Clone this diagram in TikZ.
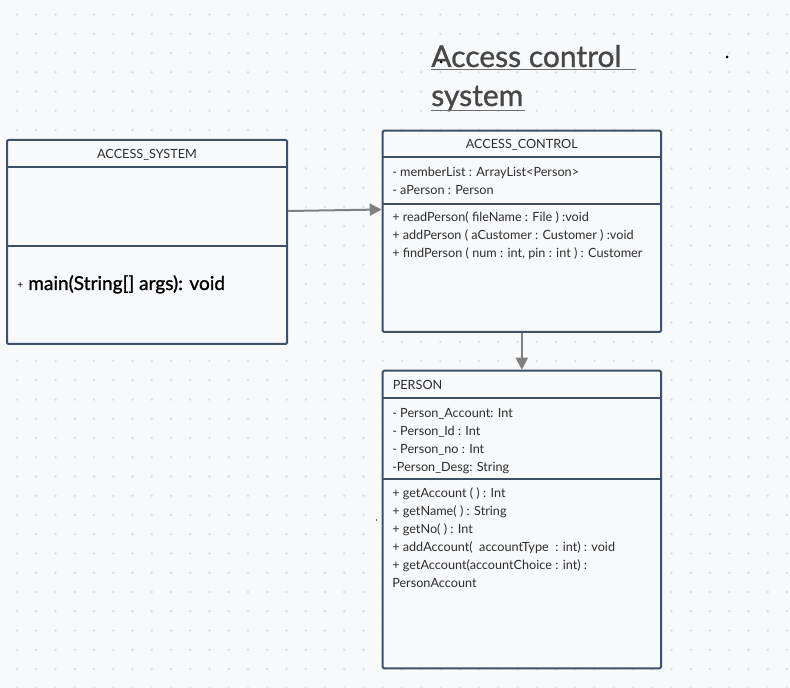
\documentclass[tikz,border=0pt]{standalone}
\usepackage{fontspec}
\setmainfont{Lato}
\newfontfamily\heavyfont[FakeBold=1.2]{Lato}
\newfontfamily\titlefont[FakeBold=0.9]{Lato}
\usetikzlibrary{arrows.meta,fit}
\definecolor{bg}{HTML}{F8F9FB}
\definecolor{griddot}{HTML}{DCDEE2}
\definecolor{border}{HTML}{3E5068}
\definecolor{txt}{HTML}{2E2E2E}
\definecolor{titlec}{HTML}{474747}
\definecolor{arrowc}{HTML}{808080}
\begin{document}
\begin{tikzpicture}[x=0.75pt,y=-0.75pt,
  umlbox/.style={draw=border,line width=1.5pt,fill=bg,rounded corners=1pt,inner sep=0pt},
  divider/.style={draw=border,line width=1.5pt},
  memb/.style={anchor=base west,inner sep=0pt,text=txt,font=\fontsize{9.5pt}{11pt}\selectfont},
  hdr/.style={anchor=base,inner sep=0pt,text=txt,font=\fontsize{9.5pt}{11pt}\selectfont},
  titletext/.style={anchor=base west,inner sep=0pt,text=titlec,font=\titlefont\fontsize{22.5pt}{26pt}\selectfont},
  uline/.style={draw=titlec!80,line width=1.1pt},
  arr/.style={draw=arrowc,line width=1.5pt,-{Triangle[length=9pt,width=9pt]}},
  stray/.style={fill=black}
]
\fill[bg] (0,0) rectangle (790,688);
\useasboundingbox (0,0) rectangle (790,688);
\foreach \i in {0,...,40}{
  \foreach \j in {0,...,35}{
    \fill[griddot] (17+19.25*\i,14.5+19.25*\j) circle (1.3);
  }
}

% title
\node[titletext] (t1) at (431,67) {Access control};
\node[titletext] (t2) at (431,106) {system};
\draw[uline] (431,69.5) -- (636,69.5);
\draw[uline] (431,110.5) -- (525,110.5);

% ACCESS_SYSTEM
\node[umlbox,fit={(7,140) (287,344)}] (asys) {};
\draw[divider] (asys.west |- 0,167) -- (asys.east |- 0,167);
\draw[divider] (asys.west |- 0,246) -- (asys.east |- 0,246);
\node[hdr] (asys-h) at (147,158.3) {ACCESS\_SYSTEM};
\node[memb,text=black,font=\fontsize{7.6pt}{8pt}\selectfont] (asys-p) at (17,288.5) {+};
\node[memb,text=black,font=\heavyfont\fontsize{14.3pt}{16pt}\selectfont] (asys-m) at (28,290) {main(String[] args): void};

% ACCESS_CONTROL
\node[umlbox,fit={(382.7,130.7) (661,332)}] (ac) {};
\draw[divider] (ac.west |- 0,157.3) -- (ac.east |- 0,157.3);
\draw[divider] (ac.west |- 0,204) -- (ac.east |- 0,204);
\node[hdr] (ac-h) at (521.8,148.7) {ACCESS\_CONTROL};
\node[memb] (ac-a1) at (392,176.3) {- memberList : ArrayList<Person>};
\node[memb] (ac-a2) at (392,194.3) {- aPerson : Person};
\node[memb] (ac-m1) at (392,221.3) {+ readPerson( fileName : File ) :void};
\node[memb] (ac-m2) at (392,239.3) {+ addPerson ( aCustomer : Customer ) :void};
\node[memb] (ac-m3) at (392,257.3) {+ findPerson ( num : int, pin : int ) : Customer};

% PERSON
\node[umlbox,fit={(382.7,370.7) (661,668.3)}] (person) {};
\draw[divider] (person.west |- 0,398.3) -- (person.east |- 0,398.3);
\draw[divider] (person.west |- 0,479.3) -- (person.east |- 0,479.3);
\node[memb] (p-h) at (392.5,389) {PERSON};
\node[memb] (p-a1) at (392,417.3) {- Person\_Account: Int};
\node[memb] (p-a2) at (392,435.3) {- Person\_Id : Int};
\node[memb] (p-a3) at (392,453.3) {- Person\_no : Int};
\node[memb] (p-a4) at (392,471.3) {-Person\_Desg: String};
\node[memb] (p-m1) at (392,497.7) {+ getAccount ( ) : Int};
\node[memb] (p-m2) at (392,515.7) {+ getName( ) : String};
\node[memb] (p-m3) at (392,533.7) {+ getNo( ) : Int};
\node[memb] (p-m4) at (392,551.7) {+ addAccount(\ \ accountType\ \ : int) : void};
\node[memb] (p-m5) at (392,569.7) {+ getAccount(accountChoice : int) :};
\node[memb] (p-m6) at (392,587.7) {PersonAccount};

% connectors
\draw[arr] (asys.east |- 0,211) -- (ac.west |- 0,209.5);
\draw[arr] (ac.south) -- (person.north);

% stray marks
\fill[stray] (727,57) circle (1.5);
\fill[stray] (441,62) circle (1.5);
\fill[black!60] (375.5,518.5) rectangle (377,521);
\end{tikzpicture}
\end{document}
